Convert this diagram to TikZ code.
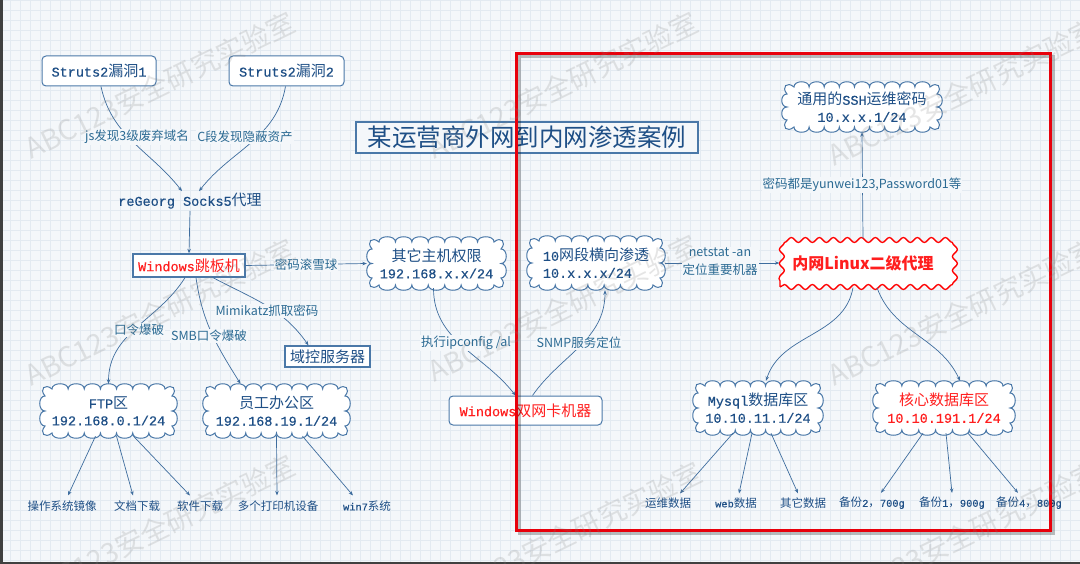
\documentclass[tikz,border=0pt]{standalone}
\usepackage{fontspec}
\setmainfont{Noto Sans CJK SC}
\newfontfamily\mn[Scale=0.9, FakeBold=0.4]{Liberation Mono}
\newcommand\M[1]{{\mn #1}}
\usetikzlibrary{decorations.pathmorphing,arrows.meta}
\definecolor{bgc}{HTML}{F4F7FA}
\definecolor{gridc}{HTML}{E3EAF1}
\definecolor{bordc}{HTML}{4A78A8}
\definecolor{txtc}{HTML}{1E4F86}
\definecolor{labc}{HTML}{2B6A93}
\definecolor{linec}{HTML}{3E6D9E}
\definecolor{redt}{HTML}{FF1E1E}
\definecolor{framec}{HTML}{E8000B}
\tikzset{
  arr/.style={draw=linec, line width=0.7pt, -{Stealth[length=4.5pt,width=3.5pt]}},
  rbox/.style={draw=bordc, line width=1pt, rounded corners=4pt, fill=white, text=txtc,
    font=\fontsize{15}{17}\selectfont, inner sep=0pt},
  sbox/.style={draw=bordc, line width=1.3pt, fill=white, text=txtc,
    font=\fontsize{15}{17}\selectfont, inner sep=0pt},
  cloudn/.style={rectangle, text=txtc, align=center, font=\fontsize{15}{17}\selectfont, inner sep=0pt},
  cloudline/.style={draw=bordc, line width=1pt, fill=white},
  lab/.style={text=labc, font=\fontsize{12.5}{18}\selectfont, fill=bgc, inner sep=1pt, align=center},
  leaf/.style={text=txtc, font=\fontsize{11.5}{13}\selectfont, inner sep=1pt},
  wm/.style={text=gray, opacity=0.2, rotate=26, font=\fontsize{28}{30}\selectfont},
}
% cloud outline: centre x, centre y, width, height
\newcommand\cloudbg[4]{%
  \pgfmathsetmacro\xa{#1-#3/2}\pgfmathsetmacro\xb{#1+#3/2}%
  \pgfmathsetmacro\ya{#2-#4/2}\pgfmathsetmacro\yb{#2+#4/2}%
  \pgfmathtruncatemacro\nx{round((#3-24)/16)}%
  \pgfmathsetmacro\dx{(#3-24)/\nx}%
  \pgfmathtruncatemacro\ny{max(1,round((#4-24)/14))}%
  \pgfmathsetmacro\dy{(#4-24)/\ny}%
  \path[cloudline] (\xa+12,\ya+5)
    \foreach \i in {1,...,\nx}{ .. controls +(0,-7) and +(0,-7) .. ++(\dx,0) }
    .. controls +(7,-6) and +(6,-7) .. (\xb-5,\ya+12)
    \foreach \i in {1,...,\ny}{ .. controls +(7,0) and +(7,0) .. ++(0,\dy) }
    .. controls +(6,7) and +(7,6) .. (\xb-12,\yb-5)
    \foreach \i in {1,...,\nx}{ .. controls +(0,7) and +(0,7) .. ++(-\dx,0) }
    .. controls +(-7,6) and +(-6,7) .. (\xa+5,\yb-12)
    \foreach \i in {1,...,\ny}{ .. controls +(-7,0) and +(-7,0) .. ++(0,-\dy) }
    .. controls +(-6,-7) and +(-7,-6) .. cycle;
}
\begin{document}
\begin{tikzpicture}[x=1pt,y=-1pt]
\useasboundingbox (0,0) rectangle (1080,564);
\fill[bgc] (0,0) rectangle (1080,564);
\foreach \i in {0,10,...,1080} \draw[gridc, line width=0.4pt] (\i,0) -- (\i,564);
\foreach \j in {0,10,...,560} \draw[gridc, line width=0.4pt] (0,\j) -- (1080,\j);
\fill[black!75] (0,0) rectangle (2.5,564);
\fill[black!75] (0,562) rectangle (1080,564);

% boxes
\node[rbox, minimum width=114pt, minimum height=30pt] (s1) at (99,71) {\M{Struts2}漏洞\M{1}};
\node[rbox, minimum width=115pt, minimum height=30pt] (s2) at (286.5,71) {\M{Struts2}漏洞\M{2}};
\node[text=txtc, font=\fontsize{15}{17}\selectfont, inner sep=2pt] (rg) at (190,201) {\M{reGeorg Socks5}代理};
\node[draw=bordc, line width=1.2pt, fill=bgc, text=txtc, font=\fontsize{24.5}{27}\selectfont,
  minimum width=342pt, minimum height=31pt, inner sep=0pt] (title) at (527,137.5) {某运营商外网到内网渗透案例};
\node[sbox, text=redt, minimum width=112pt, minimum height=23pt] (wj) at (189,265.5) {\M{Windows}跳板机};
\node[sbox, minimum width=85pt, minimum height=21pt] (dc) at (327.5,356.5) {域控服务器};
\node[rbox, text=redt, minimum width=153pt, minimum height=29pt] (wd) at (525.5,410.5) {\M{Windows}双网卡机器};

% clouds
\cloudbg{436.5}{263.5}{139}{53}
\node[cloudn, minimum width=139pt, minimum height=53pt] (oh) at (436.5,263.5) {其它主机权限\\\M{192.168.x.x/24}};
\cloudbg{596}{263}{138}{54}
\node[cloudn, align=left, minimum width=138pt, minimum height=54pt] (ten) at (596,263) {\M{10}网段横向渗透\\\M{10.x.x.x/24}};
\cloudbg{862}{107}{160}{50}
\node[cloudn, minimum width=160pt, minimum height=50pt] (ssh) at (862,107) {通用的\M{SSH}运维密码\\\M{10.x.x.1/24}};
\cloudbg{108.5}{411}{137}{54}
\node[cloudn, minimum width=137pt, minimum height=54pt] (ftp) at (108.5,411) {\M{FTP}区\\\M{192.168.0.1/24}};
\cloudbg{276.5}{411}{147}{54}
\node[cloudn, minimum width=147pt, minimum height=54pt] (staff) at (276.5,411) {员工办公区\\\M{192.168.19.1/24}};
\cloudbg{758}{408}{130}{54}
\node[cloudn, minimum width=130pt, minimum height=54pt] (my) at (758,408) {\M{Mysql}数据库区\\\M{10.10.11.1/24}};
\cloudbg{944}{408}{142}{54}
\node[cloudn, text=redt, minimum width=142pt, minimum height=54pt] (core) at (944,408) {核心数据库区\\\M{10.10.191.1/24}};

\node[draw=red, line width=1.3pt, fill=white, decorate, decoration={snake, segment length=14pt, amplitude=2.5pt},
  minimum width=166pt, minimum height=48pt, text=redt, font=\bfseries\fontsize{16}{18}\selectfont] (lx) at (863,263) {内网Linux二级代理};

\node[leaf] (l1) at (62,506) {操作系统镜像};
\node[leaf] (l2) at (137,506) {文档下载};
\node[leaf] (l3) at (200,506) {软件下载};
\node[leaf] (l4) at (278,506) {多个打印机设备};
\node[leaf] (l5) at (367,506) {\M{win7}系统};
\node[leaf] (m1) at (668,503) {运维数据};
\node[leaf] (m2) at (736,503) {\M{web}数据};
\node[leaf] (m3) at (803,503) {其它数据};
\node[leaf] (c1) at (872,503) {备份\M{2}，\M{700g}};
\node[leaf] (c2) at (952,503) {备份\M{1}，\M{900g}};
\node[leaf] (c3) at (1029,503) {备份\M{4}，\M{800g}};

% edges
\draw[arr] ([xshift=2pt]s1.south) to[out=-78,in=128] ([xshift=-8pt]rg.north);
\draw[arr] ([xshift=-1pt]s2.south) to[out=-100,in=52] ([xshift=9pt]rg.north);
\draw[arr] (rg.south) -- (wj.north);
\draw[arr] (wj.east) -- (oh.west);
\draw[arr] ([xshift=24pt]wj.south) to[out=-28,in=125] ([xshift=-19pt]dc.north);
\draw[arr] ([xshift=-4pt]wj.south) to[out=-122,in=90] (ftp.north);
\draw[arr] ([xshift=7pt]wj.south) to[out=-82,in=122] ([xshift=-36pt]staff.north);
\draw[arr] ([xshift=-3pt,yshift=2pt]oh.south) to[out=-90,in=128] ([xshift=-10pt]wd.north);
\draw[arr] ([xshift=7pt]wd.north) to[out=55,in=-90] ([xshift=9pt]ten.south);
\draw[arr] (ten.east) -- (lx.west);
\draw[arr] (lx.north) -- (ssh.south);
\draw[arr] ([xshift=-10pt]lx.south) to[out=-100,in=72] ([xshift=8pt]my.north);
\draw[arr] ([xshift=14pt]lx.south) to[out=-70,in=115] ([xshift=16pt]core.north);

\draw[arr] ([xshift=-13pt,yshift=2pt]ftp.south) -- ([xshift=6pt,yshift=4pt]l1.north);
\draw[arr] ([xshift=8pt,yshift=2pt]ftp.south) -- ([xshift=-4pt,yshift=4pt]l2.north);
\draw[arr] ([xshift=25pt,yshift=2pt]ftp.south) -- ([xshift=-10pt,yshift=4pt]l3.north);
\draw[arr] ([xshift=0pt,yshift=2pt]staff.south) -- ([xshift=-1pt,yshift=4pt]l4.north);
\draw[arr] ([xshift=26pt,yshift=2pt]staff.south) -- ([xshift=-14pt,yshift=4pt]l5.north);
\draw[arr] ([xshift=-25pt,yshift=2pt]my.south) -- ([xshift=12pt,yshift=3pt]m1.north);
\draw[arr] ([xshift=-6pt,yshift=2pt]my.south) -- ([xshift=3pt,yshift=3pt]m2.north);
\draw[arr] ([xshift=13pt,yshift=2pt]my.south) -- ([xshift=-5pt,yshift=3pt]m3.north);
\draw[arr] ([xshift=-21pt,yshift=2pt]core.south) -- ([xshift=9pt,yshift=3pt]c1.north);
\draw[arr] ([xshift=2pt,yshift=2pt]core.south) -- ([xshift=0pt,yshift=3pt]c2.north);
\draw[arr] ([xshift=24pt,yshift=2pt]core.south) -- ([xshift=-11pt,yshift=3pt]c3.north);

% edge labels
\node[lab] (t1) at (137,137) {js发现3级废弃域名};
\node[lab] (t2) at (245,137) {C段发现隐蔽资产};
\node[lab] (t3) at (306,265) {密码滚雪球};
\node[lab] (t4) at (267,311) {Mimikatz抓取密码};
\node[lab] (t5) at (139,330) {口令爆破};
\node[lab] (t6) at (209,336) {SMB口令爆破};
\node[lab] (t7) at (466,343) {执行ipconfig /al};
\node[lab] (t8) at (579,343) {SNMP服务定位};
\node[lab] (t9) at (720,262) {netstat -an\\定位重要机器};
\node[lab] (t10) at (862,185) {密码都是yunwei123,Password01等};

% red frame
\draw[black, opacity=0.25, line width=3pt] (519,57) rectangle (1053,533);
\draw[framec, line width=3pt] (516,54) rectangle (1050,530);

% watermarks
\foreach \cx/\cy [count=\k] in {160/85, 563/85, 963/92, 160/312, 563/308, 963/312, 160/528, 567/535, 965/535}
  \node[wm] (wm\k) at (\cx,\cy) {ABC123安全研究实验室};
\end{tikzpicture}
\end{document}
